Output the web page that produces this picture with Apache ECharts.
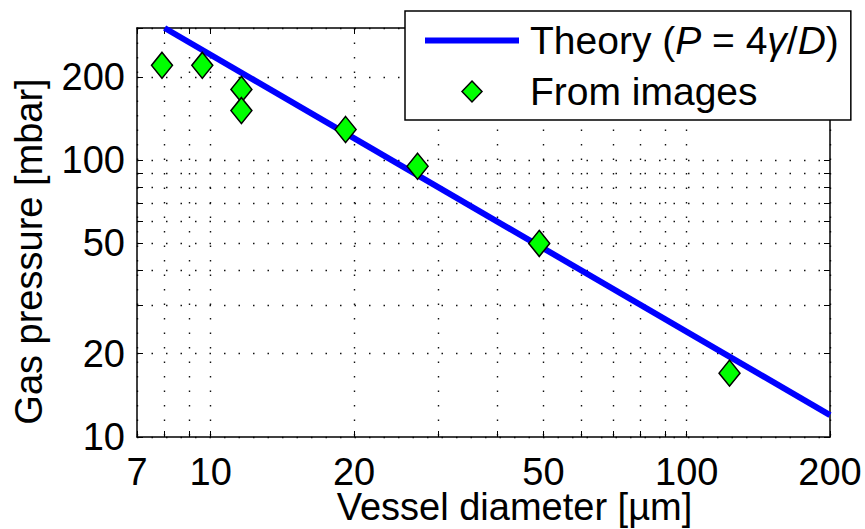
<!DOCTYPE html>
<html>
<head>
<meta charset="utf-8">
<script src="https://cdn.jsdelivr.net/npm/echarts@6/dist/echarts.min.js"></script>
<style>html,body{margin:0;padding:0;background:#fff;}#c{width:865px;height:529px;}</style>
</head>
<body>
<div id="c"></div>
<script>
// Data
const diameters = [7.9, 9.6, 11.6, 11.6, 19.2, 27.2, 49, 123];
const pressures = [220, 220, 180, 151, 129, 95, 50, 17];
const theoryD = [8, 200];
const theoryP = [300, 12];
const xTicks = [7, 8, 9, 10, 20, 30, 40, 50, 60, 70, 80, 90, 100, 200];
const xLabels = [7, 10, 20, 50, 100, 200];
const yTicks = [10, 20, 30, 40, 50, 60, 70, 80, 90, 100, 200, 300];
const yLabels = [10, 20, 50, 100, 200];

const FONT = "'Liberation Sans', Arial, sans-serif";
const FS = 38;
const LFS = 39;
const chart = echarts.init(document.getElementById('c'), null, {renderer: 'svg'});

const gridLine = {show: true, lineStyle: {color: '#111', width: 1.4, type: [1.5, 13]}};
function xAxisDef(pos, main) {
  return {
    type: 'log', position: pos, min: 7, max: 200, gridIndex: 0,
    axisLine: {show: true, lineStyle: {color: '#000', width: 1.5}},
    axisTick: {show: true, inside: true, length: 6, customValues: xTicks, lineStyle: {color: '#000', width: 1}},
    minorTick: {show: false},
    axisLabel: main ? {show: true, customValues: xLabels, margin: 16, color: '#000', fontSize: FS, fontFamily: FONT} : {show: false},
    splitLine: main ? gridLine : {show: false},
    name: main ? 'Vessel diameter [µm]' : '',
    nameLocation: 'middle', nameGap: 53, nameMoveOverlap: false,
    nameTextStyle: {color: '#000', fontSize: FS, fontFamily: FONT, lineHeight: 34, padding: [0, 0, 0, 62]}
  };
}
function yAxisDef(pos, main) {
  return {
    type: 'log', position: pos, min: 10, max: 300, gridIndex: 0,
    axisLine: {show: true, lineStyle: {color: '#000', width: 1.5}},
    axisTick: {show: true, inside: true, length: 6, customValues: yTicks, lineStyle: {color: '#000', width: 1}},
    minorTick: {show: false},
    axisLabel: main ? {show: true, customValues: yLabels, margin: 12, color: '#000', fontSize: FS, fontFamily: FONT} : {show: false},
    splitLine: main ? gridLine : {show: false},
    name: main ? 'Gas pressure [mbar]' : '',
    nameLocation: 'middle', nameGap: 89, nameMoveOverlap: false,
    nameTextStyle: {color: '#000', fontSize: FS, fontFamily: FONT, padding: [0, 38, 0, 0]}
  };
}

chart.setOption({
  animation: false,
  backgroundColor: '#fff',
  grid: {left: 137, top: 28, right: 35, bottom: 92, containLabel: false, outerBoundsMode: 'none'},
  xAxis: [xAxisDef('bottom', true), xAxisDef('top', false)],
  yAxis: [yAxisDef('left', true), yAxisDef('right', false)],
  legend: {
    orient: 'vertical', left: 405, top: 11,
    padding: [10, 12, 9, 20], itemGap: 12,
    itemWidth: 94, itemHeight: 21,
    symbolKeepAspect: true,
    backgroundColor: '#fff', borderColor: '#000', borderWidth: 1.5,
    textStyle: {
      color: '#000', fontSize: LFS, fontFamily: FONT, padding: [0, 0, 0, 6],
      rich: {
        n: {fontSize: LFS, fontFamily: FONT, color: '#000'},
        i: {fontSize: LFS, fontFamily: FONT, color: '#000', fontStyle: 'italic'}
      }
    },
    formatter: function (name) {
      if (name === 'theory') return '{n|Theory (}{i|P}{n| = 4}{i|γ}{n|/}{i|D}{n|)}';
      return '{n|From images}';
    },
    data: [
      {name: 'theory', icon: 'path://M0,0L94,0L94,6L0,6Z', itemStyle: {color: '#0000ff', borderWidth: 0}},
      {name: 'images', icon: 'path://M10,0L20,10.5L10,21L0,10.5Z', itemStyle: {color: '#00ff00', borderColor: '#000', borderWidth: 1.5}}
    ]
  },
  series: [
    {
      name: 'theory', type: 'line', xAxisIndex: 0, yAxisIndex: 0,
      data: theoryD.map((d, i) => [d, theoryP[i]]),
      symbol: 'none', lineStyle: {color: '#0000ff', width: 6}, itemStyle: {color: '#0000ff'},
      z: 3
    },
    {
      name: 'images', type: 'scatter', xAxisIndex: 0, yAxisIndex: 0,
      data: diameters.map((d, i) => [d, pressures[i]]),
      symbol: 'diamond', symbolSize: [21, 26],
      itemStyle: {color: '#00ff00', borderColor: '#000', borderWidth: 1.5, opacity: 1},
      z: 4
    }
  ]
});
</script>
</body>
</html>
